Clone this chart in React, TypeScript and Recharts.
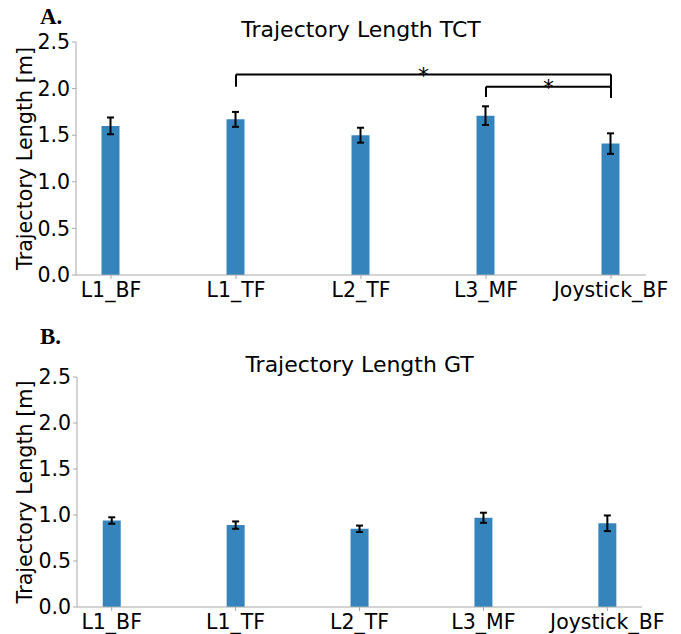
import React from "react";
import {
  BarChart,
  Bar,
  XAxis,
  YAxis,
  ErrorBar,
  ReferenceLine,
} from "recharts";

const categories = ["L1_BF", "L1_TF", "L2_TF", "L3_MF", "Joystick_BF"];
const tctMeans = [1.6, 1.67, 1.5, 1.71, 1.41];
const tctErrors = [0.09, 0.08, 0.08, 0.1, 0.11];
const gtMeans = [0.94, 0.89, 0.85, 0.97, 0.91];
const gtErrors = [0.035, 0.04, 0.035, 0.055, 0.085];
const yTicks = [0, 0.5, 1.0, 1.5, 2.0, 2.5];
const xTicks = [0, 1, 2, 3, 4];

// significance brackets (category index from/to, height of bar, height of legs)
const tctFrom = [1, 3];
const tctTo = [4, 4];
const tctTop = [2.15, 2.02];
const tctLegLeft = [2.02, 1.91];
const tctLegRight = [2.02, 1.9];

const BLUE = "#3585bc";
const SPINE = "#a8a8a8";
const FONT = "DejaVu Sans, sans-serif";

type Bracket = { from: number; to: number; top: number; l: number; r: number };

interface PanelProps {
  title: string;
  letter: string;
  means: number[];
  errors: number[];
  brackets: Bracket[];
  height: number;
  margin: { top: number; right: number; left: number; bottom: number };
  xAxisHeight: number;
  letterY: number;
  titleY: number;
}

function Panel(p: PanelProps) {
  const data = categories.map((c, i) => ({ x: i, name: c, v: p.means[i], err: p.errors[i] }));
  const plotTop = p.margin.top;
  const plotBottom = p.height - p.margin.bottom - p.xAxisHeight;
  const plotLeft = p.margin.left + 60;
  const plotRight = 681 - p.margin.right;
  const cx = (plotLeft + plotRight) / 2;
  const cy = (plotTop + plotBottom) / 2;
  return (
    <BarChart width={681} height={p.height} data={data} margin={p.margin}>
      <XAxis
        dataKey="x"
        type="number"
        domain={[-0.28, 4.28]}
        ticks={xTicks}
        interval={0}
        tickFormatter={(i: number) => categories[i]}
        stroke={SPINE}
        tickSize={4}
        tickMargin={3}
        height={p.xAxisHeight}
        tick={{ fill: "#000", fontSize: 20.5, fontFamily: FONT }}
      />
      <XAxis xAxisId="top" orientation="top" type="number" domain={[-0.28, 4.28]} tick={false} tickLine={false} height={0} stroke={SPINE} />
      <YAxis
        type="number"
        domain={[0, 2.5]}
        ticks={yTicks}
        interval={0}
        tickFormatter={(v: number) => v.toFixed(1)}
        stroke={SPINE}
        tickSize={4}
        tickMargin={2}
        width={60}
        tick={{ fill: "#000", fontSize: 20.5, fontFamily: FONT }}
      />
      <YAxis yAxisId="right" orientation="right" domain={[0, 2.5]} tick={false} tickLine={false} width={0} stroke={SPINE} />
      <Bar dataKey="v" fill={BLUE} barSize={18} isAnimationActive={false}>
        <ErrorBar dataKey="err" direction="y" width={3.5} strokeWidth={2} stroke="#000" />
      </Bar>
      {p.brackets.map((b, i) => (
        <ReferenceLine
          key={"h" + i}
          segment={[{ x: b.from, y: b.top }, { x: b.to, y: b.top }]}
          stroke="#000"
          strokeWidth={2}
          label={{
            content: (lp: any) => {
              const vb = lp.viewBox || {};
              return (
                <text x={vb.x + (vb.width || 0) / 2} y={vb.y + 8} textAnchor="middle" fontSize={22} fontFamily={FONT} fill="#000">
                  *
                </text>
              );
            },
          }}
        />
      ))}
      {p.brackets.map((b, i) => (
        <ReferenceLine key={"l" + i} segment={[{ x: b.from, y: b.top }, { x: b.from, y: b.l }]} stroke="#000" strokeWidth={2} />
      ))}
      {p.brackets.map((b, i) => (
        <ReferenceLine key={"r" + i} segment={[{ x: b.to, y: b.top }, { x: b.to, y: b.r }]} stroke="#000" strokeWidth={2} />
      ))}
      <text x={cx} y={p.titleY} textAnchor="middle" fontSize={22} fontFamily={FONT} fill="#000">
        {p.title}
      </text>
      <text x={40} y={p.letterY} fontSize={23} fontWeight="bold" fontFamily="Liberation Serif, serif" fill="#000">
        {p.letter}
      </text>
      <text
        x={25}
        y={cy}
        textAnchor="middle"
        dominantBaseline="central"
        transform={`rotate(-90 25 ${cy})`}
        fontSize={20.7}
        fontFamily={FONT}
        fill="#000"
      >
        Trajectory Length [m]
      </text>
    </BarChart>
  );
}

export default function App() {
  const tctBrackets: Bracket[] = tctFrom.map((f, i) => ({
    from: f,
    to: tctTo[i],
    top: tctTop[i],
    l: tctLegLeft[i],
    r: tctLegRight[i],
  }));
  return (
    <div style={{ position: "absolute", left: 0, top: 0, width: 681, height: 634, background: "#fff" }}>
      <Panel
        title="Trajectory Length TCT"
        letter="A."
        means={tctMeans}
        errors={tctErrors}
        brackets={tctBrackets}
        height={320}
        margin={{ top: 42, right: 35, left: 16, bottom: 20 }}
        xAxisHeight={25}
        letterY={24}
        titleY={37}
      />
      <Panel
        title="Trajectory Length GT"
        letter="B."
        means={gtMeans}
        errors={gtErrors}
        brackets={[]}
        height={314}
        margin={{ top: 57, right: 39, left: 17, bottom: 0 }}
        xAxisHeight={27}
        letterY={24}
        titleY={52}
      />
    </div>
  );
}
